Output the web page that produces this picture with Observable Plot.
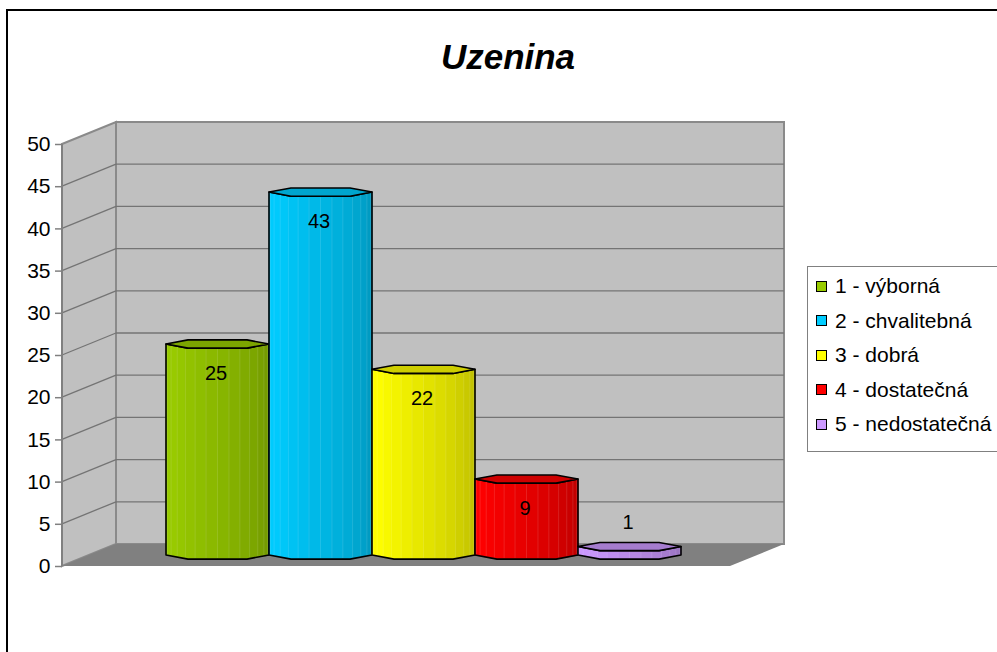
<!DOCTYPE html>
<html><head><meta charset="utf-8">
<script src="https://cdn.jsdelivr.net/npm/d3@7"></script>
<script src="https://cdn.jsdelivr.net/npm/@observablehq/plot@0.6"></script>
<style>
html,body{margin:0;padding:0;background:#fff;overflow:hidden;}
#wrap{position:relative;width:997px;height:652px;overflow:hidden;font-family:"Liberation Sans",Arial,sans-serif;}
#frame{position:absolute;left:6px;top:9px;width:1200px;height:900px;border:2px solid #000;box-sizing:border-box;}
#chart{position:absolute;left:0;top:0;}
#title{position:absolute;left:8px;width:1000px;top:39px;line-height:35px;text-align:center;font-weight:bold;font-style:italic;font-size:35px;color:#000;}
#legend{position:absolute;left:807px;top:266px;width:230px;height:184px;border:1px solid #808080;background:#fff;}
.row{position:absolute;left:0;height:24px;line-height:24px;display:flex;align-items:center;white-space:nowrap;font-size:21px;color:#000;}
.sw{width:9px;height:9px;border:1px solid #000;margin-left:8px;margin-right:8px;}
</style></head>
<body>
<div id="wrap">
  <div id="frame"></div>
  <div id="chart"></div>
  <div id="title">Uzenina</div>
  <div id="legend"></div>
</div>
<script>
// ---- data ----
const series = ["1 - výborná", "2 - chvalitebná", "3 - dobrá", "4 - dostatečná", "5 - nedostatečná"];
const values = [25, 43, 22, 9, 1];
const colors = ["#99cc00", "#00ccff", "#ffff00", "#ff0000", "#cc99ff"];
const yTicks = [0, 5, 10, 15, 20, 25, 30, 35, 40, 45, 50];
const yDomain = [0, 50];

// ---- style constants ----
const depth = {dx: 54, dy: -22};
const wallFill = "#c0c0c0", floorFill = "#808080", gridStroke = "#747474";

const data = series.map((s, i) => ({series: s, value: values[i], color: colors[i]}));

function walls(index, scales, vals, dim) {
  const {y} = scales;
  const x0 = dim.marginLeft, x1 = dim.width - dim.marginRight;
  const yb = y(yDomain[0]), yt = y(yDomain[1]);
  const {dx, dy} = depth;
  const g = d3.create("svg:g");
  g.append("path")
    .attr("d", `M${x0},${yt}L${x0 + dx},${yt + dy}L${x0 + dx},${yb + dy}L${x0},${yb}Z`)
    .attr("fill", wallFill).attr("stroke", "#8a8a8a").attr("stroke-width", 2);
  g.append("rect")
    .attr("x", x0 + dx).attr("y", yt + dy).attr("width", x1 - x0).attr("height", yb - yt)
    .attr("fill", wallFill).attr("stroke", "#8a8a8a").attr("stroke-width", 2);
  for (const t of yTicks) {
    if (t === yDomain[0] || t === yDomain[1]) continue;
    g.append("line").attr("x1", x0 + dx).attr("x2", x1 + dx).attr("y1", y(t) + dy).attr("y2", y(t) + dy)
      .attr("stroke", gridStroke).attr("stroke-width", 1.3);
    g.append("line").attr("x1", x0).attr("x2", x0 + dx).attr("y1", y(t)).attr("y2", y(t) + dy)
      .attr("stroke", gridStroke).attr("stroke-width", 1.3);
  }
  g.append("path")
    .attr("d", `M${x0},${yb}L${x0 + dx},${yb + dy}L${x1 + dx},${yb + dy}L${x1},${yb}Z`)
    .attr("fill", floorFill);
  g.append("line").attr("x1", x0).attr("x2", x0).attr("y1", yt).attr("y2", yb)
    .attr("stroke", "#808080").attr("stroke-width", 2);
  return g.node();
}

function bars(index, scales, vals, dim) {
  const {x, y} = scales;
  const bw = typeof x.bandwidth === "function" ? x.bandwidth() : (x(series[1]) - x(series[0]));
  const r = bw / 2, ry = 5, N = 14;
  const rad = a => a * Math.PI / 180;
  const g = d3.create("svg:g");
  data.forEach(d => {
    const cx = x(d.series) + r + depth.dx / 2;
    const yTop = y(d.value) + depth.dy / 2;
    const yBase = y(yDomain[0]) + depth.dy / 2;
    const pt = (a, cy) => [cx + r * Math.cos(rad(a)), cy - ry * Math.sin(rad(a))];
    const frontA = [180, 235, 305, 360];
    const frontX = frontA.map(a => cx + r * Math.cos(rad(a)));
    const frontOff = frontA.map(a => -ry * Math.sin(rad(a)));
    const off = xx => {
      for (let k = 0; k < frontX.length - 1; k++) {
        if (xx >= frontX[k] - 1e-9 && xx <= frontX[k + 1] + 1e-9) {
          const t = (xx - frontX[k]) / (frontX[k + 1] - frontX[k] || 1);
          return frontOff[k] + t * (frontOff[k + 1] - frontOff[k]);
        }
      }
      return 0;
    };
    const base = d3.color(d.color);
    const dark = base.darker(0.92);
    const shade = d3.interpolateRgb(base.formatHex(), dark.formatHex());
    const bodyPts = [];
    frontA.forEach(a => bodyPts.push(pt(a, yBase)));
    [...frontA].reverse().forEach(a => bodyPts.push(pt(a, yTop)));
    g.append("path").attr("d", "M" + bodyPts.map(p => p.join(",")).join("L") + "Z").attr("fill", base.formatHex());
    for (let k = 0; k < N; k++) {
      const th0 = k * 180 / N, th1 = (k + 1) * 180 / N;
      const xa = cx - r * Math.cos(rad(th0)), xb = cx - r * Math.cos(rad(th1));
      const xs = [xa, ...frontX.filter(v => v > xa && v < xb), xb];
      const mid = (th0 + th1) / 2;
      const t = mid < 25 ? 0.1 * (1 - mid / 25) : Math.pow((mid - 25) / 155, 1.15);
      const c = shade(Math.min(1, t));
      const p = [];
      xs.forEach(v => p.push([v, yBase + off(v)]));
      [...xs].reverse().forEach(v => p.push([v, yTop + off(v)]));
      g.append("path").attr("d", "M" + p.map(q => q.join(",")).join("L") + "Z")
        .attr("fill", c).attr("stroke", c).attr("stroke-width", 0.6);
      if (k > 0) {
        g.append("line").attr("x1", xa).attr("x2", xa).attr("y1", yTop + off(xa) + 1).attr("y2", yBase + off(xa) - 1)
          .attr("stroke", "#fff").attr("stroke-opacity", 0.12).attr("stroke-width", 1);
      }
    }
    g.append("path").attr("d", "M" + bodyPts.map(p => p.join(",")).join("L") + "Z")
      .attr("fill", "none").attr("stroke", "#000").attr("stroke-width", 1.6).attr("stroke-linejoin", "round");
    const topPoly = [pt(0, yTop), pt(55, yTop), pt(125, yTop), pt(180, yTop), pt(235, yTop), pt(305, yTop)];
    g.append("path").attr("d", "M" + topPoly.map(p => p.join(",")).join("L") + "Z")
      .attr("fill", base.darker(0.6).formatHex()).attr("stroke", "#000").attr("stroke-width", 1.6)
      .attr("stroke-linejoin", "round");
  });
  return g.node();
}

const chart = Plot.plot({
  width: 997,
  height: 652,
  marginLeft: 62,
  marginRight: 267,
  marginTop: 144,
  marginBottom: 86,
  style: {fontFamily: "'Liberation Sans', Arial, sans-serif", fontSize: "21px", background: "transparent", overflow: "visible", color: "#000"},
  x: {type: "band", domain: series, paddingInner: 0, paddingOuter: 0.72, axis: null},
  y: {domain: yDomain, axis: null, label: null},
  marks: [
    walls,
    Plot.axisY(yTicks, {tickSize: 7, tickPadding: 5, stroke: "#808080", strokeWidth: 1.5, fill: "#000", fontSize: 21, label: null}),
    bars,
    Plot.text(data.filter(d => d.value >= 3), {x: "series", y: "value", text: d => String(d.value), dx: depth.dx / 2 - 2, dy: depth.dy / 2 + 29, fontSize: 20, fill: "#000"}),
    Plot.text(data.filter(d => d.value < 3), {x: "series", y: "value", text: d => String(d.value), dx: depth.dx / 2 - 2, dy: depth.dy / 2 - 24, fontSize: 20, fill: "#000"})
  ]
});
document.getElementById("chart").appendChild(chart);

// legend
const legend = d3.select("#legend");
series.forEach((s, i) => {
  const row = legend.append("div").attr("class", "row").style("top", (20 + 34.6 * i - 12 - 1) + "px");
  row.append("div").attr("class", "sw").style("background", colors[i]);
  row.append("span").text(s);
});
</script>
</body></html>
